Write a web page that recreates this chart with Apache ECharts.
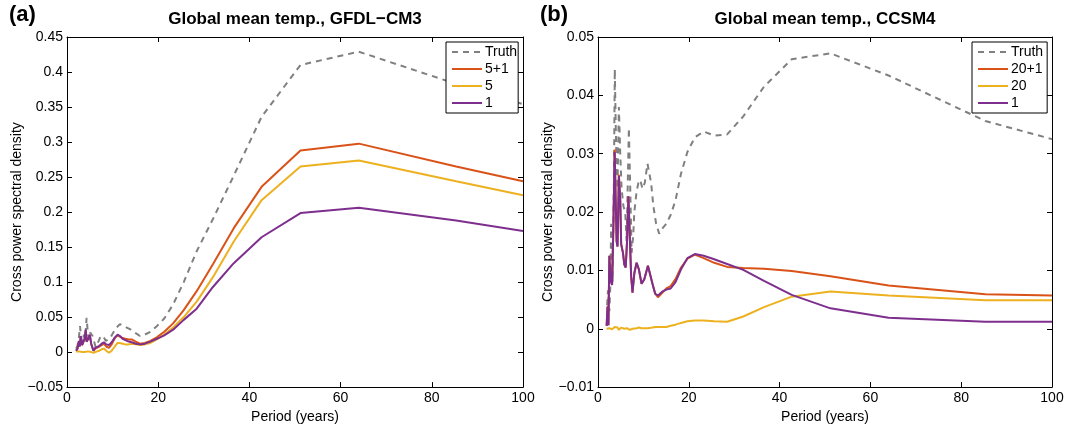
<!DOCTYPE html>
<html>
<head>
<meta charset="utf-8">
<script src="https://cdn.jsdelivr.net/npm/echarts@6/dist/echarts.min.js"></script>
<style>
html,body{margin:0;padding:0;background:#fff;}
#chart{width:1067px;height:429px;}
</style>
</head>
<body>
<div id="chart"></div>
<script>
// ---------- Data ----------
const xTickLabels = ['0', '20', '40', '60', '80', '100'];
const yTickLabelsA = ['\u22120.05', '0', '0.05', '0.1', '0.15', '0.2', '0.25', '0.3', '0.35', '0.4', '0.45'];
const yTickLabelsB = ['\u22120.01', '0', '0.01', '0.02', '0.03', '0.04', '0.05'];

const legendA = ['Truth', '5+1', '5', '1'];
const legendB = ['Truth', '20+1', '20', '1'];

// Panel (a) GFDL-CM3
const truthPeriodsA = [2.0, 2.3, 2.6, 2.85, 3.1, 3.4, 3.7, 4.0, 4.3, 4.6, 4.8, 5.1, 5.6, 6.3, 6.7, 7.4, 8.0, 8.5, 8.9, 9.5, 9.9, 10.7, 11.6, 12.2, 12.8, 14.0, 15.06, 16, 17.07, 18.29, 19.69, 21.33, 23.27, 25.6, 28.44, 32, 36.57, 42.67, 51.2, 64, 85.33, 100];
const truthA = [0.005, 0.009, 0.020, 0.037, 0.020, 0.014, 0.025, 0.020, 0.049, 0.025, 0.018, 0.028, 0.023, 0.007, 0.012, 0.023, 0.022, 0.016, 0.016, 0.020, 0.025, 0.034, 0.040, 0.038, 0.036, 0.032, 0.027, 0.023, 0.025, 0.029, 0.037, 0.048, 0.068, 0.100, 0.144, 0.190, 0.252, 0.336, 0.410, 0.429, 0.383, 0.354];

const periodsA = [2.0, 2.3, 2.6, 2.8, 3.0, 3.3, 3.6, 3.9, 4.1, 4.3, 4.6, 5.0, 5.3, 5.8, 6.2, 6.6, 7.1, 7.6, 8.1, 8.6, 9.2, 9.8, 10.5, 11.1, 11.6, 12.2, 12.8, 13.5, 14.2, 15.06, 16, 17.07, 18.29, 19.69, 21.33, 23.27, 25.6, 28.44, 32, 36.57, 42.67, 51.2, 64, 85.33, 100];
const fivePlusOneA = [0.002, 0.005, 0.015, 0.008, 0.022, 0.010, 0.012, 0.019, 0.030, 0.015, 0.017, 0.024, 0.012, 0.002, 0.005, 0.006, 0.008, 0.010, 0.012, 0.008, 0.006, 0.011, 0.020, 0.024, 0.022, 0.020, 0.019, 0.018, 0.018, 0.015, 0.012, 0.013, 0.016, 0.021, 0.029, 0.041, 0.060, 0.087, 0.1256, 0.177, 0.236, 0.288, 0.2977, 0.265, 0.244];
const fiveA = [0.001, 0.000, 0.001, 0.000, 0.002, 0.000, 0.001, 0.000, 0.002, -0.001, 0.001, 0.001, 0.000, -0.001, 0.000, 0.001, 0.002, 0.004, 0.005, 0.002, -0.001, 0.002, 0.008, 0.013, 0.013, 0.012, 0.011, 0.011, 0.012, 0.011, 0.010, 0.011, 0.013, 0.018, 0.025, 0.035, 0.050, 0.072, 0.107, 0.158, 0.217, 0.265, 0.2735, 0.244, 0.224];
const oneA = [0.002, 0.005, 0.016, 0.008, 0.023, 0.010, 0.012, 0.020, 0.032, 0.015, 0.018, 0.025, 0.012, 0.002, 0.006, 0.007, 0.009, 0.012, 0.014, 0.011, 0.010, 0.014, 0.021, 0.025, 0.023, 0.019, 0.017, 0.015, 0.014, 0.012, 0.011, 0.012, 0.015, 0.019, 0.024, 0.032, 0.046, 0.062, 0.093, 0.127, 0.164, 0.1986, 0.206, 0.188, 0.173];

// Panel (b) CCSM4
const truthPeriodsB = [2.0, 2.2, 2.5, 2.7, 2.9, 3.2, 3.5, 3.7, 3.9, 4.1, 4.3, 4.6, 4.9, 5.2, 5.6, 6.0, 6.3, 6.8, 7.1, 7.4, 7.76, 8.0, 8.5, 8.9, 9.3, 9.8, 10.3, 10.9, 11.3, 11.7, 12.2, 12.8, 13.47, 14.2, 15.06, 16, 17.07, 18.29, 19.69, 21.33, 23.27, 25.6, 28.44, 32, 36.57, 42.67, 51.2, 64, 85.33, 100];
const truthB = [0.004, 0.0066, 0.003, 0.007, 0.018, 0.008, 0.025, 0.0445, 0.035, 0.028, 0.024, 0.038, 0.030, 0.024, 0.021, 0.020, 0.015, 0.0344, 0.024, 0.013, 0.016, 0.020, 0.0235, 0.025, 0.0255, 0.024, 0.025, 0.0283, 0.0285, 0.025, 0.021, 0.018, 0.0163, 0.0172, 0.018, 0.0195, 0.022, 0.0266, 0.0303, 0.0328, 0.0338, 0.0331, 0.0333, 0.0364, 0.0415, 0.0462, 0.0472, 0.0434, 0.0356, 0.0325];

const periodsB = [1.9, 2.1, 2.3, 2.5, 2.8, 3.1, 3.4, 3.67, 3.9, 4.1, 4.3, 4.6, 4.9, 5.1, 5.5, 5.8, 6.1, 6.4, 6.7, 7.0, 7.3, 7.6, 8.0, 8.5, 9.0, 9.6, 10.2, 11.0, 11.4, 12.0, 12.6, 13.2, 14.2, 15.06, 16, 17.07, 18.29, 19.69, 21.33, 23.27, 25.6, 28.44, 32, 36.57, 42.67, 51.2, 64, 85.33, 100];
const twentyPlusOneB = [0.0005, 0.0038, 0.0006, 0.0125, 0.0082, 0.0075, 0.018, 0.0307, 0.022, 0.015, 0.0141, 0.0264, 0.022, 0.0145, 0.013, 0.011, 0.0105, 0.015, 0.0227, 0.016, 0.009, 0.0062, 0.0095, 0.0113, 0.0102, 0.0077, 0.0085, 0.0108, 0.0105, 0.0077, 0.006, 0.0054, 0.0062, 0.0069, 0.0073, 0.0085, 0.0105, 0.0120, 0.0127, 0.0121, 0.0113, 0.0106, 0.0104, 0.0103, 0.0099, 0.0090, 0.0074, 0.0059, 0.0057];
const twentyB = [0, 0.0002, -0.0001, 0.0001, 0.0003, -0.0001, 0.0002, 0.0003, 0.0001, 0.0, 0.0002, -0.0002, 0.0001, 0.0002, -0.0001, 0.0, -0.0002, 0.0001, 0.0, -0.0002, 0.0001, 0.0, -0.0002, 0.0001, 0.0002, 0.0001, 0.0001, 0.0001, 0.0002, 0.0002, 0.0003, 0.0003, 0.0003, 0.0003, 0.0005, 0.0007, 0.0010, 0.0013, 0.0014, 0.0014, 0.0013, 0.0012, 0.0021, 0.0037, 0.0055, 0.0064, 0.0057, 0.0049, 0.0049];
const oneB = [0.0005, 0.0038, 0.0006, 0.0125, 0.0082, 0.0075, 0.018, 0.0303, 0.022, 0.015, 0.0141, 0.0262, 0.022, 0.0145, 0.013, 0.011, 0.0105, 0.015, 0.0227, 0.016, 0.009, 0.0062, 0.0095, 0.0113, 0.0102, 0.0077, 0.0085, 0.0108, 0.0105, 0.0077, 0.006, 0.0057, 0.0064, 0.0067, 0.0069, 0.0080, 0.0102, 0.0121, 0.0128, 0.0125, 0.0119, 0.0111, 0.0101, 0.0082, 0.0058, 0.0035, 0.0019, 0.0012, 0.0012];

// ---------- Styles ----------
const COL_TRUTH = '#808080';
const COL_ORANGE = '#D95319';
const COL_YELLOW = '#EDB120';
const COL_PURPLE = '#7E2F8E';
const FONT = '"Liberation Sans", Arial, Helvetica, sans-serif';

function pairs(xs, ys) { return xs.map((x, i) => [x, ys[i]]); }

function xAxes(gi) {
  const base = {
    gridIndex: gi, type: 'value', min: 0, max: 100, interval: 20,
    axisLine: { show: true, onZero: false, lineStyle: { color: '#000', width: 1 } },
    axisTick: { show: true, inside: true, length: 5, lineStyle: { color: '#000' } },
    splitLine: { show: false }
  };
  return [
    Object.assign({}, base, {
      position: 'bottom',
      axisLabel: { show: true, margin: 4, fontSize: 14, color: '#000', fontFamily: FONT,
        formatter: v => xTickLabels[Math.round(v / 20)] },
      name: 'Period (years)', nameLocation: 'middle', nameGap: 17,
      nameTextStyle: { fontSize: 14, color: '#000', fontFamily: FONT }
    }),
    Object.assign({}, base, { position: 'top', axisLabel: { show: false } })
  ];
}

function yAxes(gi, min, max, interval, labels) {
  const base = {
    gridIndex: gi, type: 'value', min: min, max: max, interval: interval,
    axisLine: { show: true, onZero: false, lineStyle: { color: '#000', width: 1 } },
    axisTick: { show: true, inside: true, length: 5, lineStyle: { color: '#000' } },
    splitLine: { show: false }
  };
  return [
    Object.assign({}, base, {
      position: 'left',
      axisLabel: { show: true, margin: 4, fontSize: 14, color: '#000', fontFamily: FONT,
        formatter: v => labels[Math.round((v - min) / interval)] },
      name: 'Cross power spectral density', nameLocation: 'middle', nameGap: 42, nameRotate: 90,
      nameTextStyle: { fontSize: 14, color: '#000', fontFamily: FONT }
    }),
    Object.assign({}, base, { position: 'right', axisLabel: { show: false } })
  ];
}

function lineSeries(name, data, color, xi, yi, dashed) {
  return {
    name: name, type: 'line', xAxisIndex: xi, yAxisIndex: yi,
    data: data, symbol: 'none', showSymbol: false, clip: true,
    lineStyle: { color: color, width: 2, type: dashed ? [6, 5] : 'solid' },
    itemStyle: { color: color },
    emphasis: { disabled: true },
    animation: false
  };
}

const chart = echarts.init(document.getElementById('chart'), null, { renderer: 'canvas' });

const legendCommon = {
  orient: 'vertical', itemWidth: 30, itemHeight: 14, itemGap: 3,
  backgroundColor: '#fff', borderColor: '#000', borderWidth: 1,
  itemStyle: { opacity: 0, borderWidth: 0 },
  textStyle: { fontSize: 14, color: '#000', fontFamily: FONT, padding: [0, 0, 0, -2] },
  selectedMode: false
};

const option = {
  backgroundColor: '#fff',
  animation: false,
  textStyle: { fontFamily: FONT },
  title: [
    { text: '(a)', left: 9, top: 4, padding: 0, textStyle: { fontSize: 22, fontWeight: 'bold', color: '#000', fontFamily: FONT } },
    { text: 'Global mean temp., GFDL\u2212CM3', left: 295, top: 11, padding: 0, textAlign: 'center',
      textStyle: { fontSize: 17, fontWeight: 'bold', color: '#000', fontFamily: FONT } },
    { text: '(b)', left: 540, top: 4, padding: 0, textStyle: { fontSize: 22, fontWeight: 'bold', color: '#000', fontFamily: FONT } },
    { text: 'Global mean temp., CCSM4', left: 825, top: 11, padding: 0, textAlign: 'center',
      textStyle: { fontSize: 17, fontWeight: 'bold', color: '#000', fontFamily: FONT } }
  ],
  legend: [
    Object.assign({}, legendCommon, { data: legendA, left: 446, top: 42, padding: [3, 1, 3, 5] }),
    Object.assign({}, legendCommon, { data: legendB, left: 972, top: 42, padding: [3, 4, 3, 5] })
  ],
  grid: [
    { left: 67, right: 544, top: 37, bottom: 33, containLabel: false },
    { left: 598, right: 15, top: 37, bottom: 33, containLabel: false }
  ],
  xAxis: [].concat(xAxes(0), xAxes(1)),
  yAxis: [].concat(yAxes(0, -0.05, 0.45, 0.05, yTickLabelsA), yAxes(1, -0.01, 0.05, 0.01, yTickLabelsB)),
  series: [
    lineSeries('Truth', pairs(truthPeriodsA, truthA), COL_TRUTH, 0, 0, true),
    lineSeries('5+1', pairs(periodsA, fivePlusOneA), COL_ORANGE, 0, 0, false),
    lineSeries('5', pairs(periodsA, fiveA), COL_YELLOW, 0, 0, false),
    lineSeries('1', pairs(periodsA, oneA), COL_PURPLE, 0, 0, false),
    lineSeries('Truth', pairs(truthPeriodsB, truthB), COL_TRUTH, 2, 2, true),
    lineSeries('20+1', pairs(periodsB, twentyPlusOneB), COL_ORANGE, 2, 2, false),
    lineSeries('20', pairs(periodsB, twentyB), COL_YELLOW, 2, 2, false),
    lineSeries('1', pairs(periodsB, oneB), COL_PURPLE, 2, 2, false)
  ]
};
chart.setOption(option);
</script>
</body>
</html>
